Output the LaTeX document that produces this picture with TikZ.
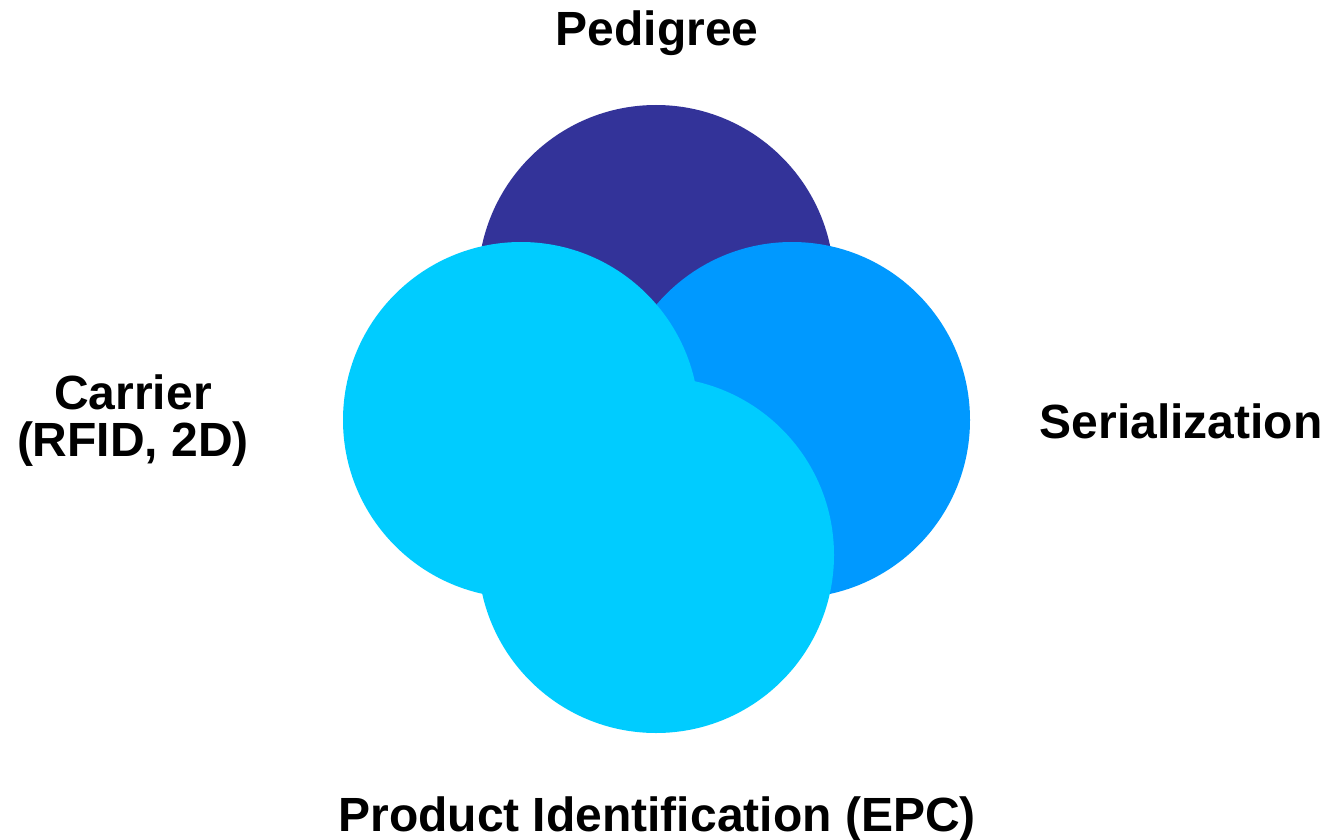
\documentclass[tikz,border=0pt]{standalone}
\usepackage{fontspec}
\setmainfont{Liberation Sans}
\definecolor{cdark}{HTML}{333399}
\definecolor{cmid}{HTML}{0099FF}
\definecolor{clight}{HTML}{00CCFF}
\begin{document}
\begin{tikzpicture}[x=1pt,y=-1pt,
  disc/.style={circle,minimum size=356pt,inner sep=0pt,draw=none},
  lbl/.style={font=\fontsize{48}{49}\selectfont\bfseries,anchor=base,inner sep=0pt,align=center}]
\useasboundingbox (0,0) rectangle (1328,840);
\node[disc,fill=cdark]  (top)    at (656,283) {};
\node[disc,fill=cmid]   (right)  at (792,420) {};
\node[disc,fill=clight] (left)   at (521,420) {};
\node[disc,fill=clight] (bottom) at (656,555) {};
\node[lbl] (ped) at (657,46) {Pedigree};
\node[lbl] (car) at (133,409) {Carrier};
\node[lbl] (rfid) at (133,456) {(RFID, 2D)};
\node[lbl] (ser) at (1181,438) {Serialization};
\node[lbl] (pid) at (657,831) {Product Identification (EPC)};
\end{tikzpicture}
\end{document}
